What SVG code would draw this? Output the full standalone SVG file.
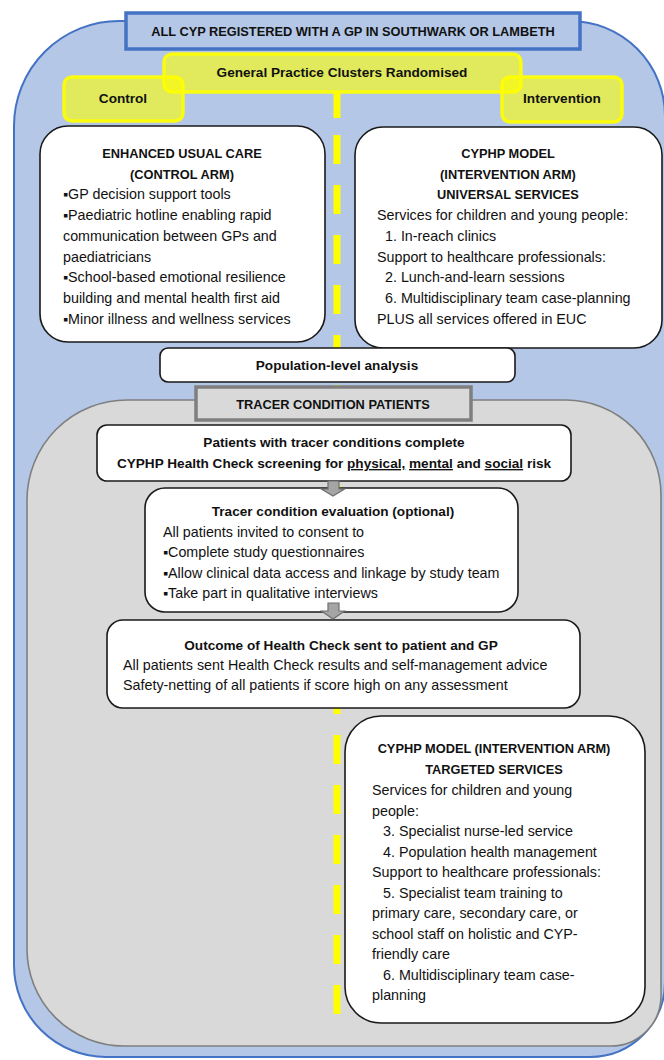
<svg xmlns="http://www.w3.org/2000/svg" width="664" height="1060" viewBox="0 0 664 1060">
<style>
text{font-family:"Liberation Sans",Arial,sans-serif;fill:#111}
.h{font-weight:bold;font-size:12.8px;text-anchor:middle}
.hm{font-weight:bold;font-size:13.6px;text-anchor:middle}
.b{font-size:14.3px}
.wbox{fill:#fff;stroke:#1a1a1a;stroke-width:1.6}
.ybox{fill:#ffff00;fill-opacity:0.6;stroke:#ffff00;stroke-opacity:0.9;stroke-width:3.5}
.arrow{fill:#a5a5a5;stroke:#6f6f6f;stroke-width:1.2}
</style>
<rect width="664" height="1060" fill="#fff"/>
<g id="container-all">
<path d="M119,21 H570 A95 95 0 0 1 665,116 V982 A75 75 0 0 1 590,1057 H106 A92 92 0 0 1 14,965 V126 A105 105 0 0 1 119,21 Z" fill="#b4c7e7" stroke="#4472c4" stroke-width="2"/>
</g>
<g id="title">
<rect x="126" y="13" width="454" height="36" fill="#b4c7e7" stroke="#4472c4" stroke-width="3.5"/>
<text class="h" x="353" y="35.5">ALL CYP REGISTERED WITH A GP IN SOUTHWARK OR LAMBETH</text>
</g>
<g id="container-tracer">
<path d="M127,400 H566 A95 95 0 0 1 661,495 V996 A50 50 0 0 1 611,1046 H124 A97 97 0 0 1 27,949 V500 A100 100 0 0 1 127,400 Z" fill="#d9d9d9" stroke="#7f7f7f" stroke-width="1.6"/>
</g>
<g id="connectors">
<line x1="337" y1="91" x2="337" y2="118" stroke="#ffff00" stroke-width="7"/>
<line x1="337" y1="135" x2="337" y2="1015" stroke="#ffff00" stroke-width="7" stroke-dasharray="29 21"/>
</g>
<g id="control">
<rect class="ybox" x="64" y="77" width="119" height="44" rx="8"/>
<text class="hm" x="123" y="103">Control</text>
</g>
<g id="intervention">
<rect class="ybox" x="502" y="77" width="120" height="45" rx="8"/>
<text class="hm" x="562" y="103">Intervention</text>
</g>
<g id="randomised">
<rect class="ybox" x="164" y="54" width="357" height="38" rx="8"/>
<text class="hm" x="342" y="77">General Practice Clusters Randomised</text>
</g>
<g id="euc">
<rect class="wbox" x="40" y="126" width="285" height="216" rx="28"/>
<text class="h" x="182" y="158">ENHANCED USUAL CARE</text>
<text class="h" x="182" y="178.7">(CONTROL ARM)</text>
<text class="b" x="63" y="199.4">▪GP decision support tools</text>
<text class="b" x="63" y="220.1">▪Paediatric hotline enabling rapid</text>
<text class="b" x="63" y="240.8">communication between GPs and</text>
<text class="b" x="63" y="261.5">paediatricians</text>
<text class="b" x="63" y="282.2">▪School-based emotional resilience</text>
<text class="b" x="63" y="302.9">building and mental health first aid</text>
<text class="b" x="63" y="323.6">▪Minor illness and wellness services</text>
</g>
<g id="universal">
<rect class="wbox" x="355" y="127" width="307" height="221" rx="28"/>
<text class="h" x="508" y="158">CYPHP MODEL</text>
<text class="h" x="508" y="178.7">(INTERVENTION ARM)</text>
<text class="h" x="508" y="199.4">UNIVERSAL SERVICES</text>
<text class="b" x="377" y="220.1">Services for children and young people:</text>
<text class="b" x="385" y="240.8">1. In-reach clinics</text>
<text class="b" x="377" y="261.5">Support to healthcare professionals:</text>
<text class="b" x="385" y="282.2">2. Lunch-and-learn sessions</text>
<text class="b" x="385" y="302.9">6. Multidisciplinary team case-planning</text>
<text class="b" x="377" y="323.6">PLUS all services offered in EUC</text>
</g>
<g id="population">
<rect class="wbox" x="160" y="348" width="355" height="34" rx="8"/>
<text class="hm" x="337" y="370">Population-level analysis</text>
</g>
<g id="tracer-title">
<rect x="196" y="387" width="275" height="33" fill="#d9d9d9" stroke="#7f7f7f" stroke-width="3.5"/>
<text class="h" x="333" y="408.5">TRACER CONDITION PATIENTS</text>
</g>
<g id="healthcheck">
<rect class="wbox" x="97" y="425" width="474" height="56" rx="10"/>
<text class="hm" x="334" y="447">Patients with tracer conditions complete</text>
<text class="hm" x="334" y="468">CYPHP Health Check screening for <tspan text-decoration="underline">physical,</tspan> <tspan text-decoration="underline">mental</tspan> and <tspan text-decoration="underline">social</tspan> risk</text>
</g>
<g id="evaluation">
<rect class="wbox" x="145" y="488" width="373" height="124" rx="20"/>
<text class="hm" x="333" y="516">Tracer condition evaluation (optional)</text>
<text class="b" x="163" y="536.5">All patients invited to consent to</text>
<text class="b" x="163" y="557">▪Complete study questionnaires</text>
<text class="b" x="163" y="577.5">▪Allow clinical data access and linkage by study team</text>
<text class="b" x="163" y="598">▪Take part in qualitative interviews</text>
</g>
<g id="outcome">
<rect class="wbox" x="107" y="620" width="473" height="88" rx="16"/>
<text class="hm" x="341" y="650">Outcome of Health Check sent to patient and GP</text>
<text class="b" x="123" y="670">All patients sent Health Check results and self-management advice</text>
<text class="b" x="123" y="690">Safety-netting of all patients if score high on any assessment</text>
</g>
<g id="targeted">
<rect class="wbox" x="345" y="716" width="300" height="307" rx="36"/>
<text class="h" x="494" y="753">CYPHP MODEL (INTERVENTION ARM)</text>
<text class="h" x="494" y="773.5">TARGETED SERVICES</text>
<text class="b" x="372" y="795">Services for children and young</text>
<text class="b" x="372" y="815.5">people:</text>
<text class="b" x="383" y="836">3. Specialist nurse-led service</text>
<text class="b" x="383" y="856.5">4. Population health management</text>
<text class="b" x="372" y="877">Support to healthcare professionals:</text>
<text class="b" x="383" y="897.5">5. Specialist team training to</text>
<text class="b" x="372" y="918">primary care, secondary care, or</text>
<text class="b" x="372" y="938.5">school staff on holistic and CYP-</text>
<text class="b" x="372" y="959">friendly care</text>
<text class="b" x="383" y="979.5">6. Multidisciplinary team case-</text>
<text class="b" x="372" y="1000">planning</text>
</g>
<g id="arrows">
<polygon class="arrow" points="328,481 339,481 339,489 344.5,489 333,496 321.5,489 328,489"/>
<polygon class="arrow" points="328,603 339,603 339,611 344.5,611 333,619 321.5,611 328,611"/>
</g>
</svg>
